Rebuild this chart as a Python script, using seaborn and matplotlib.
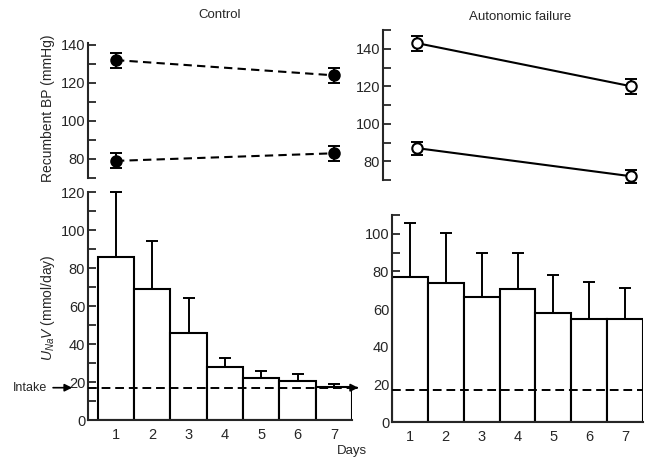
import numpy as np
import pandas as pd
import matplotlib
matplotlib.use('Agg')
import matplotlib.pyplot as plt
from matplotlib.ticker import MultipleLocator
import seaborn as sns

# Recumbent BP (day 1 and day 7), upper = systolic, lower = diastolic
bp_days = [1, 7]
ctrl_sys = [132, 124]
ctrl_sys_err = [4, 4]
ctrl_dia = [79, 83]
ctrl_dia_err = [4, 4]
af_sys = [143, 120]
af_sys_err = [4, 4]
af_dia = [87, 72]
af_dia_err = [3.5, 3.5]

# Urinary sodium excretion per day
days = [1, 2, 3, 4, 5, 6, 7]
ctrl_una = [86, 69, 46, 28, 22, 20.5, 17.5]
ctrl_una_err = [34, 25, 18, 4.5, 4, 3.5, 1.3]
af_una = [77, 74, 66.5, 70.5, 58, 54.5, 54.5]
af_una_err = [28.5, 26.5, 23.5, 19.5, 20, 20, 16.5]
intake = 17

sns.set_style('ticks')
plt.rcParams['font.family'] = ['Liberation Sans', 'DejaVu Sans']
plt.rcParams['mathtext.fontset'] = 'custom'
plt.rcParams['mathtext.it'] = 'Liberation Sans:italic'
plt.rcParams['mathtext.rm'] = 'Liberation Sans'

W, H = 647, 459
fig = plt.figure(figsize=(W / 100, H / 100), dpi=100)


def rect(x0, y0, x1, y1):
    return [x0 / W, 1 - y1 / H, (x1 - x0) / W, (y1 - y0) / H]


def style_axis(ax, major, minor, bottom=False):
    sns.despine(ax=ax, top=True, right=True, bottom=not bottom)
    for s in ax.spines.values():
        s.set_linewidth(1.5)
    ax.yaxis.set_major_locator(MultipleLocator(major))
    ax.yaxis.set_minor_locator(MultipleLocator(minor))
    ax.tick_params(axis='y', which='both', direction='in', length=5.5, width=1.3,
                   labelsize=10.5, pad=2)
    if bottom:
        ax.set_xticks(days)
        ax.set_xticklabels([str(d) for d in days])
        ax.tick_params(axis='x', length=0, labelsize=10.5, pad=6)
    else:
        ax.set_xticks([])
    ax.set_xlabel('')
    ax.set_ylabel('')


def bp_panel(ax, sys_, sys_err, dia, dia_err, ls, face):
    for vals, errs in [(sys_, sys_err), (dia, dia_err)]:
        sns.lineplot(x=bp_days, y=vals, ax=ax, color='black', linestyle=ls, lw=1.5,
                     marker='o', markersize=7.5, markerfacecolor=face,
                     markeredgecolor='black', markeredgewidth=1.5, zorder=3,
                     clip_on=False)
        ax.errorbar(bp_days, vals, yerr=errs, fmt='none', ecolor='black',
                    elinewidth=1.4, capsize=4.5, capthick=1.4, zorder=2,
                    clip_on=False)


def bar_panel(ax, vals, errs):
    df = pd.DataFrame({'day': days, 'una': vals})
    sns.barplot(data=df, x='day', y='una', native_scale=True, width=1,
                color='white', edgecolor='black', linewidth=1.5, ax=ax, zorder=2)
    ax.errorbar(days, vals, yerr=[np.zeros(len(vals)), errs], fmt='none',
                ecolor='black', elinewidth=1.4, capsize=4.5, capthick=1.4,
                zorder=1, clip_on=False)


# Control, top
ax1 = fig.add_axes(rect(88, 43, 352, 178))
bp_panel(ax1, ctrl_sys, ctrl_sys_err, ctrl_dia, ctrl_dia_err, (0, (4, 2.5)), 'black')
ax1.set_xlim(0.23, 7.5)
ax1.set_ylim(70, 141)
style_axis(ax1, 20, 10)
ax1.set_yticks([80, 100, 120, 140])
ax1.set_yticks([70, 90, 110, 130], minor=True)

# Autonomic failure, top
ax2 = fig.add_axes(rect(383, 30, 645, 180))
bp_panel(ax2, af_sys, af_sys_err, af_dia, af_dia_err, '-', 'white')
ax2.set_xlim(0.047, 7.39)
ax2.set_ylim(70, 150)
style_axis(ax2, 20, 10)
ax2.set_yticks([80, 100, 120, 140])
ax2.set_yticks([70, 90, 110, 130, 150], minor=True)

# Control, bottom
ax3 = fig.add_axes(rect(88, 192, 352, 420))
bar_panel(ax3, ctrl_una, ctrl_una_err)
ax3.set_xlim(0.23, 7.5)
ax3.set_ylim(0, 120)
style_axis(ax3, 20, 10, bottom=True)
ax3.plot([0.23, 7.6], [intake, intake], color='black', lw=1.4,
         dashes=(4.5, 2.5), clip_on=False, zorder=4)
ax3.annotate('', xy=(7.75, intake), xytext=(7.55, intake),
             arrowprops=dict(arrowstyle='-|>', color='black', lw=1.3,
                             mutation_scale=11), annotation_clip=False)
ax3.annotate('Intake', xy=(-0.06, intake), xycoords=('axes fraction', 'data'),
             xytext=(-0.285, intake), textcoords=('axes fraction', 'data'),
             ha='left', va='center', fontsize=9,
             arrowprops=dict(arrowstyle='-|>', color='black', lw=1.2,
                             mutation_scale=11, shrinkA=2, shrinkB=0))

# Autonomic failure, bottom
ax4 = fig.add_axes(rect(392, 215, 643, 422))
bar_panel(ax4, af_una, af_una_err)
ax4.set_xlim(0.5, 7.5)
ax4.set_ylim(0, 110)
style_axis(ax4, 20, 10, bottom=True)
ax4.plot([0.5, 7.5], [intake, intake], color='black', lw=1.4,
         dashes=(4.5, 2.5), zorder=4)

fig.text(220 / W, 1 - 15 / H, 'Control', ha='center', va='center', fontsize=9.5)
fig.text(520 / W, 1 - 17 / H, 'Autonomic failure', ha='center', va='center', fontsize=9.5)
fig.text(48 / W, 1 - 108 / H, 'Recumbent BP (mmHg)', rotation=90,
         ha='center', va='center', fontsize=10)
fig.text(48 / W, 1 - 308 / H, r'$U_{Na}V$ (mmol/day)', rotation=90,
         ha='center', va='center', fontsize=10)
fig.text(352 / W, 1 - 451 / H, 'Days', ha='center', va='center', fontsize=9.5)

fig.savefig('out.png', dpi=100)
